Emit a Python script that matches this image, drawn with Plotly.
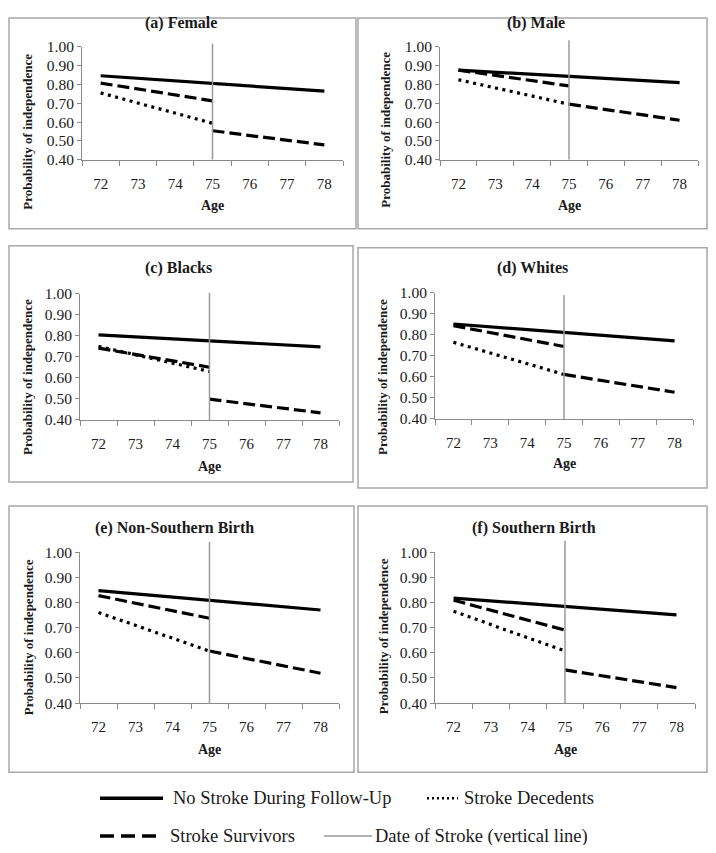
import plotly.graph_objects as go

# page has an 8px body margin; figure sized so page is 716x853
PAGE_W, PAGE_H = 716, 853
MARG = 8
W, H = PAGE_W - 2 * MARG, PAGE_H - 2 * MARG
# empirical vertical mapping of figure px -> screenshot px
Y_OFF, Y_SCALE = 16.3, 0.979

ages = ["72", "73", "74", "75", "76", "77", "78"]
panel_titles = ["(a) Female", "(b) Male", "(c) Blacks", "(d) Whites",
                "(e) Non-Southern Birth", "(f) Southern Birth"]

# series values per panel
no_stroke_ages = ["72", "78"]
no_stroke = [[0.846, 0.764], [0.876, 0.809], [0.805, 0.748],
             [0.852, 0.772], [0.847, 0.770], [0.817, 0.751]]

pre_ages = ["72", "75"]
survivors_pre = [[0.807, 0.713], [0.876, 0.792], [0.742, 0.651],
                 [0.844, 0.745], [0.827, 0.737], [0.809, 0.690]]
decedents = [[0.755, 0.594], [0.825, 0.695], [0.750, 0.631],
             [0.765, 0.612], [0.760, 0.607], [0.765, 0.607]]

post_ages = ["75", "78"]
survivors_post = [[0.554, 0.479], [0.695, 0.610], [0.499, 0.434],
                  [0.612, 0.527], [0.607, 0.519], [0.532, 0.462]]

stroke_age = "75"
stroke_line_top = [1.016, 1.034, 1.005, 0.99, 1.04, 1.045]

y_ticks = [0.4, 0.5, 0.6, 0.7, 0.8, 0.9, 1.0]

legend_labels = ["No Stroke During Follow-Up", "Stroke Decedents",
                 "Stroke Survivors", "Date of Stroke (vertical line)"]

# ---- layout geometry (target screen pixels) ----
plot_rects = [  # x0, x1, ytop, ybot
    (82, 343, 46, 159),
    (440, 698, 46, 159),
    (80, 339, 293, 419),
    (435, 693, 292, 418),
    (80, 339, 551, 702),
    (435, 695, 551, 702),
]
boxes = [
    (2, 356, 2, 228),
    (358, 712, 2, 228),
    (3, 353, 245, 481),
    (358, 709, 247, 487),
    (3, 354, 505, 771),
    (358, 712, 505, 771),
]
title_pos = [(181, 22), (536, 22), (178, 267), (532, 267), (174, 527), (534, 527)]
ytitle_pos = [(28, 131), (386, 129), (28, 376), (383, 376), (28, 636), (383, 635)]
age_y = [205, 205, 465, 462, 748, 748]


def fx(px):
    v = (px - MARG) / W
    return min(max(v, 1.0 / W), 1 - 1.0 / W)


def fy(py):
    fig_y = (py - Y_OFF) / Y_SCALE
    fig_y = min(max(fig_y, 1.0), H - 1.0)
    return 1 - fig_y / H


FONT = "Liberation Serif"
TXT = "#1a1a1a"
AXC = "#8a8a8a"

fig = go.Figure()
layout = dict(
    width=W, height=H, autosize=False,
    margin=dict(l=0, r=0, t=0, b=0),
    paper_bgcolor="white", plot_bgcolor="rgba(0,0,0,0)",
    showlegend=False,
    font=dict(family=FONT, color=TXT),
)
annotations = []
shapes = []

for i in range(6):
    k = i + 1
    kh = i + 7
    x0, x1, yt, yb = plot_rects[i]
    xa = "x" if k == 1 else f"x{k}"
    ya = "y" if k == 1 else f"y{k}"
    xh, yh = f"x{kh}", f"y{kh}"

    layout["xaxis" if k == 1 else f"xaxis{k}"] = dict(
        domain=[fx(x0), fx(x1)], anchor=ya, type="category",
        categoryorder="array", categoryarray=ages, range=[-0.5, 6.5],
        tickson="boundaries", ticks="outside", ticklen=5, tickcolor=AXC,
        ticklabelstandoff=10,
        showline=True, linecolor=AXC, linewidth=1, showgrid=False,
        zeroline=False, tickfont=dict(family=FONT, size=15, color=TXT),
        fixedrange=True,
    )
    layout["yaxis" if k == 1 else f"yaxis{k}"] = dict(
        domain=[fy(yb), fy(yt)], anchor=xa, range=[0.4, 1.0],
        tickvals=y_ticks, tickformat=".2f", ticks="outside", ticklen=4,
        tickcolor=AXC, showline=True, linecolor=AXC, linewidth=1,
        showgrid=False, zeroline=False,
        tickfont=dict(family=FONT, size=15.5, color=TXT), fixedrange=True,
    )
    # hidden axes with an extended top, for the vertical stroke line
    ext = (yb - yt) / 6.0
    layout[f"xaxis{kh}"] = dict(
        domain=[fx(x0), fx(x1)], anchor=yh, type="category",
        categoryorder="array", categoryarray=ages, range=[-0.5, 6.5],
        visible=False, fixedrange=True,
    )
    layout[f"yaxis{kh}"] = dict(
        domain=[fy(yb), fy(yt - ext)], anchor=xh, range=[0.4, 1.1],
        visible=False, fixedrange=True,
    )

    fig.add_trace(go.Scatter(
        x=[stroke_age, stroke_age], y=[0.4, stroke_line_top[i]],
        mode="lines", line=dict(color="#9a9a9a", width=1.5),
        xaxis=xh, yaxis=yh, hoverinfo="skip"))
    fig.add_trace(go.Scatter(
        x=no_stroke_ages, y=no_stroke[i], mode="lines",
        line=dict(color="black", width=3.2), xaxis=xa, yaxis=ya,
        name=legend_labels[0]))
    fig.add_trace(go.Scatter(
        x=pre_ages, y=survivors_pre[i], mode="lines",
        line=dict(color="black", width=3.2, dash="12px,5px"),
        xaxis=xa, yaxis=ya, name=legend_labels[2]))
    fig.add_trace(go.Scatter(
        x=pre_ages, y=decedents[i], mode="lines",
        line=dict(color="black", width=3.2, dash="3px,4.5px"),
        xaxis=xa, yaxis=ya, name=legend_labels[1]))
    fig.add_trace(go.Scatter(
        x=post_ages, y=survivors_post[i], mode="lines",
        line=dict(color="black", width=3.2, dash="12px,5px"),
        xaxis=xa, yaxis=ya, name=legend_labels[2]))

    # panel border
    bx0, bx1, by0, by1 = boxes[i]
    shapes.append(dict(type="rect", xref="paper", yref="paper",
                       x0=fx(bx0), x1=fx(bx1), y0=fy(by1), y1=fy(by0),
                       line=dict(color="#a8a8a8", width=1.5),
                       fillcolor="rgba(0,0,0,0)", layer="below"))
    # panel title
    tx, ty = title_pos[i]
    annotations.append(dict(text=f"<b>{panel_titles[i]}</b>", xref="paper", yref="paper",
                            x=fx(tx), y=fy(ty), xanchor="center", yanchor="middle",
                            showarrow=False, font=dict(family=FONT, size=16, color=TXT)))
    # y title
    yx, yy = ytitle_pos[i]
    annotations.append(dict(text="<b>Probability of independence</b>", xref="paper",
                            yref="paper", x=fx(yx), y=fy(yy),
                            xanchor="center", yanchor="middle", textangle=-90,
                            showarrow=False, font=dict(family=FONT, size=13, color=TXT)))
    # x title
    annotations.append(dict(text="<b>Age</b>", xref="paper", yref="paper",
                            x=fx((x0 + x1) / 2), y=fy(age_y[i]), xanchor="center",
                            yanchor="middle", showarrow=False,
                            font=dict(family=FONT, size=14, color=TXT)))

# ---- legend (drawn manually) ----
leg_rows = [797, 838]
leg_items = [
    # (x0, x1, row, color, width, dash, text_x, label)
    (100, 163, 0, "black", 3.5, "solid", 171, legend_labels[0]),
    (427, 458, 0, "black", 2.5, "2px,3px", 462, legend_labels[1]),
    (100, 157, 1, "black", 3.5, "14px,7px", 168, legend_labels[2]),
    (324, 372, 1, "#9a9a9a", 1.5, "solid", 373, legend_labels[3]),
]
for (lx0, lx1, r, col, lw, dsh, tx, lab) in leg_items:
    yy = leg_rows[r]
    shapes.append(dict(type="line", xref="paper", yref="paper",
                       x0=fx(lx0), x1=fx(lx1), y0=fy(yy), y1=fy(yy),
                       line=dict(color=col, width=lw, dash=dsh)))
    annotations.append(dict(text=lab, xref="paper", yref="paper", x=fx(tx), y=fy(yy),
                            xanchor="left", yanchor="middle", showarrow=False,
                            font=dict(family=FONT, size=18.5, color=TXT)))

layout["annotations"] = annotations
layout["shapes"] = shapes
fig.update_layout(**layout)
fig.write_html("out.html")
